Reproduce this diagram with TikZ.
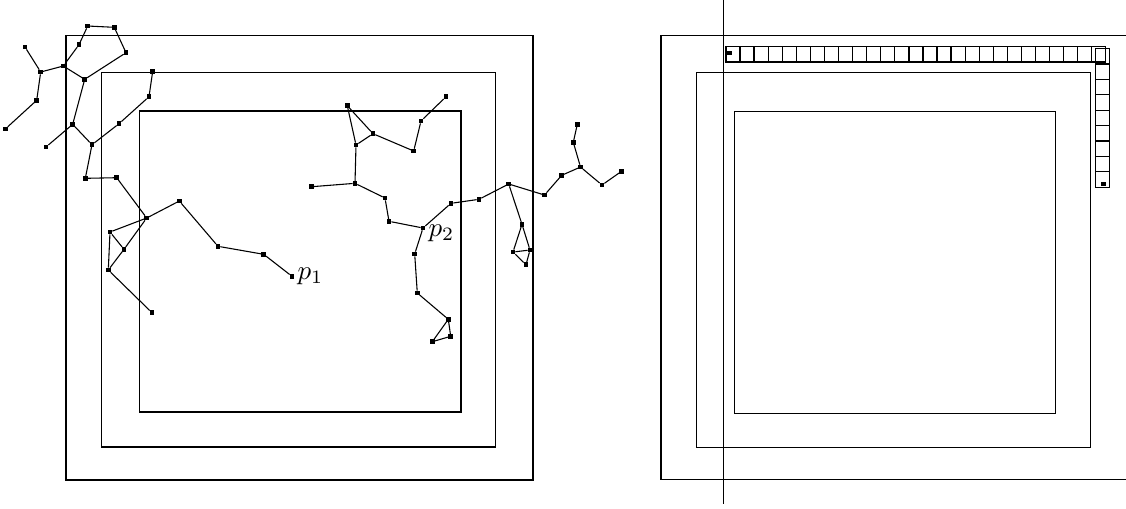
\documentclass[tikz,border=0pt]{standalone}
\begin{document}
\begin{tikzpicture}[x=0.37pt,y=-0.37pt,
  dot/.style={fill=black,draw=none,minimum size=1.75pt,inner sep=0pt,outer sep=0pt,rectangle},
  frame/.style={draw=black,line width=0.4pt},
  edge/.style={draw=black,line width=0.4pt},
  cell/.style={draw=black,line width=0.45pt,rectangle,minimum width=14*0.37pt,minimum height=15.5*0.37pt,inner sep=0pt,outer sep=0pt}]
\useasboundingbox (0,0) rectangle (1126,508);
% left panel frames
\draw[frame] (66,35.7) rectangle (533,480);
\draw[frame] (101.7,72.5) rectangle (495.3,447);
\draw[frame] (139.5,111) rectangle (461,412);
% right panel frames
\draw[frame] (1126,35.7) -- (661,35.7) -- (661,479.3) -- (1126,479.3);
\draw[frame] (696.7,72.3) rectangle (1090.3,447.3);
\draw[frame] (734.3,111.3) rectangle (1055.7,413.3);
\coordinate (vt) at (723.3,0);
\coordinate (vb) at (723.3,504);
\draw[edge] (vt) -- (vb);
% row of cells
\foreach \i in {0,...,26} {
  \node[cell] (r\i) at ({726+14.07*\i+7.03},54.3) {};
}
\foreach \j in {0,...,8} {
  \node[cell,minimum width=14.4*0.37pt,minimum height=15.42*0.37pt] (c\j) at (1102.5,{48.5+15.42*\j+7.71}) {};
}
\node[dot] (ds) at (729.7,53) {};
\node[dot] (de) at (1103.7,184) {};
% left cluster
\node[dot] (n1) at (87.7,26) {};
\node[dot] (n2) at (114.3,27.3) {};
\node[dot] (n3) at (126,52.7) {};
\node[dot] (n4) at (79,44.7) {};
\node[dot] (n5) at (63.3,66) {};
\node[dot] (n6) at (40.7,72) {};
\node[dot] (n7) at (25,47) {};
\node[dot] (n8) at (36.7,100.3) {};
\node[dot] (n9) at (5.3,129) {};
\node[dot] (n10) at (84.7,79.3) {};
\node[dot] (n11) at (72.7,124.3) {};
\node[dot] (n12) at (46,147) {};
\node[dot] (n13) at (92,144.7) {};
\node[dot] (n14) at (119,123.7) {};
\node[dot] (n15) at (149,96.7) {};
\node[dot] (n16) at (152.7,71.3) {};
\node[dot] (n17) at (85.3,178.3) {};
\node[dot] (n18) at (116.7,177.7) {};
\node[dot] (n19) at (146.7,218) {};
\node[dot] (n20) at (179.3,201) {};
\node[dot] (n21) at (218,246.3) {};
\node[dot] (n22) at (263.7,254.3) {};
\node[dot,label={[inner sep=1pt]right:$p_1$}] (p1) at (292,276.3) {};
\node[dot] (n23) at (110,232) {};
\node[dot] (n24) at (124,249.3) {};
\node[dot] (n25) at (108.3,270) {};
\node[dot] (n26) at (152,312.7) {};
\draw[edge] (n1)--(n2) (n2)--(n3) (n1)--(n4) (n4)--(n5) (n5)--(n6) (n6)--(n7)
  (n6)--(n8) (n8)--(n9) (n5)--(n10) (n3)--(n10) (n10)--(n11) (n11)--(n12)
  (n11)--(n13) (n13)--(n14) (n14)--(n15) (n15)--(n16) (n13)--(n17) (n17)--(n18)
  (n18)--(n19) (n19)--(n20) (n20)--(n21) (n21)--(n22) (n22)--(p1)
  (n19)--(n23) (n23)--(n24) (n19)--(n24) (n23)--(n25) (n24)--(n25) (n25)--(n26);
% right cluster
\node[dot] (m1) at (347.3,105.7) {};
\node[dot] (m2) at (373,133.7) {};
\node[dot] (m3) at (356,145) {};
\node[dot] (m4) at (413.7,151) {};
\node[dot] (m5) at (421,121) {};
\node[dot] (m6) at (446,96.7) {};
\node[dot] (m7) at (355,183.3) {};
\node[dot] (m8) at (311.7,186.7) {};
\node[dot] (m9) at (385,198) {};
\node[dot] (m10) at (389,221.3) {};
\node[dot,label={[inner sep=1pt,yshift=-2pt]right:$p_2$}] (p2) at (423,228) {};
\node[dot] (m11) at (451,203.3) {};
\node[dot] (m12) at (479,199.3) {};
\node[dot] (m13) at (508.7,184) {};
\node[dot] (m14) at (544.5,195) {};
\node[dot] (m15) at (561.7,175.3) {};
\node[dot] (m16) at (580.5,167) {};
\node[dot] (m17) at (573.3,142.3) {};
\node[dot] (m18) at (577.3,124.3) {};
\node[dot] (m19) at (602,185) {};
\node[dot] (m20) at (621.5,171.3) {};
\node[dot] (m21) at (522,224.3) {};
\node[dot] (m22) at (513,252) {};
\node[dot] (m23) at (530,250) {};
\node[dot] (m24) at (526,264.7) {};
\node[dot] (m25) at (414.7,254) {};
\node[dot] (m26) at (417.3,293) {};
\node[dot] (m27) at (448.3,319.3) {};
\node[dot] (m28) at (450.7,336.3) {};
\node[dot] (m29) at (432.3,341.7) {};
\draw[edge] (m1)--(m2) (m1)--(m3) (m2)--(m3) (m2)--(m4) (m4)--(m5) (m5)--(m6)
  (m3)--(m7) (m7)--(m8) (m7)--(m9) (m9)--(m10) (m10)--(p2) (p2)--(m11)
  (m11)--(m12) (m12)--(m13) (m13)--(m14) (m14)--(m15) (m15)--(m16) (m16)--(m17)
  (m17)--(m18) (m16)--(m19) (m19)--(m20) (m13)--(m21) (m21)--(m22) (m21)--(m23)
  (m22)--(m23) (m22)--(m24) (m23)--(m24) (p2)--(m25) (m25)--(m26) (m26)--(m27)
  (m27)--(m28) (m28)--(m29) (m29)--(m27);
\end{tikzpicture}
\end{document}
